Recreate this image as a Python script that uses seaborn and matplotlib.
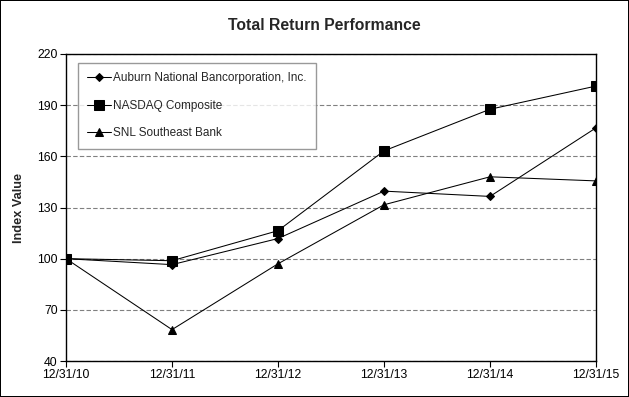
import matplotlib
matplotlib.use("Agg")
import matplotlib.pyplot as plt
import seaborn as sns
import pandas as pd

dates = ["12/31/10", "12/31/11", "12/31/12", "12/31/13", "12/31/14", "12/31/15"]
auburn = [100, 96.5, 111.8, 139.6, 136.5, 176.7]
nasdaq = [100, 98.8, 116.4, 163.2, 187.6, 201.2]
snl = [100, 58.4, 97.0, 131.6, 148.0, 145.6]
series_names = ["Auburn National Bancorporation, Inc.", "NASDAQ Composite", "SNL Southeast Bank"]
yticks = [40, 70, 100, 130, 160, 190, 220]

sns.set_theme(style="white")
plt.rcParams['font.family'] = ['Liberation Sans', 'DejaVu Sans']

rows = []
for name, vals in zip(series_names, [auburn, nasdaq, snl]):
    for i, v in enumerate(vals):
        rows.append({"x": i, "Index Value": v, "series": name})
df = pd.DataFrame(rows)

fig = plt.figure(figsize=(6.29, 3.97), dpi=100)
fig.patch.set_edgecolor("black")
fig.patch.set_linewidth(1.2)
ax = fig.add_axes([66/629, 1-361/397, 530/629, 307/397])

markers = {series_names[0]: "D", series_names[1]: "s", series_names[2]: "^"}
sizes = {series_names[0]: 4.2, series_names[1]: 6.5, series_names[2]: 6.0}
for name in series_names:
    sub = df[df.series == name]
    sns.lineplot(data=sub, x="x", y="Index Value", ax=ax, color="black", linewidth=0.75,
                 marker=markers[name], markersize=sizes[name], markeredgecolor="black",
                 markerfacecolor="black", label=name)

ax.set_xlim(0, 5)
ax.set_ylim(40, 220)
ax.set_yticks(yticks)
ax.set_xticks(range(len(dates)))
ax.set_xticklabels(dates)
ax.yaxis.grid(True, linestyle=(0, (4, 2)), color="#808080", linewidth=0.8)
ax.xaxis.grid(False)
ax.tick_params(axis="both", labelsize=8.8, colors="black", length=4, width=0.8,
               direction="out", left=True, bottom=True, pad=2)
for s in ax.spines.values():
    s.set_color("black")
    s.set_linewidth(1.0)
ax.set_xlabel("")
ax.set_ylabel("Index Value", fontsize=9.2, fontweight="bold", labelpad=9)
fig.text(324/629, 1-25/397, "Total Return Performance", ha="center", va="center",
         fontsize=11.3, fontweight="bold")

leg = ax.legend(loc="upper left", bbox_to_anchor=(12/530, (361-63)/307), borderaxespad=0,
                frameon=True, fancybox=False, edgecolor="#808080", fontsize=8.5,
                handlelength=2.0, labelspacing=1.3, borderpad=0.8, handletextpad=0.2)
leg.get_frame().set_linewidth(1.0)

fig.savefig("out.png", dpi=100, edgecolor=fig.get_edgecolor())
